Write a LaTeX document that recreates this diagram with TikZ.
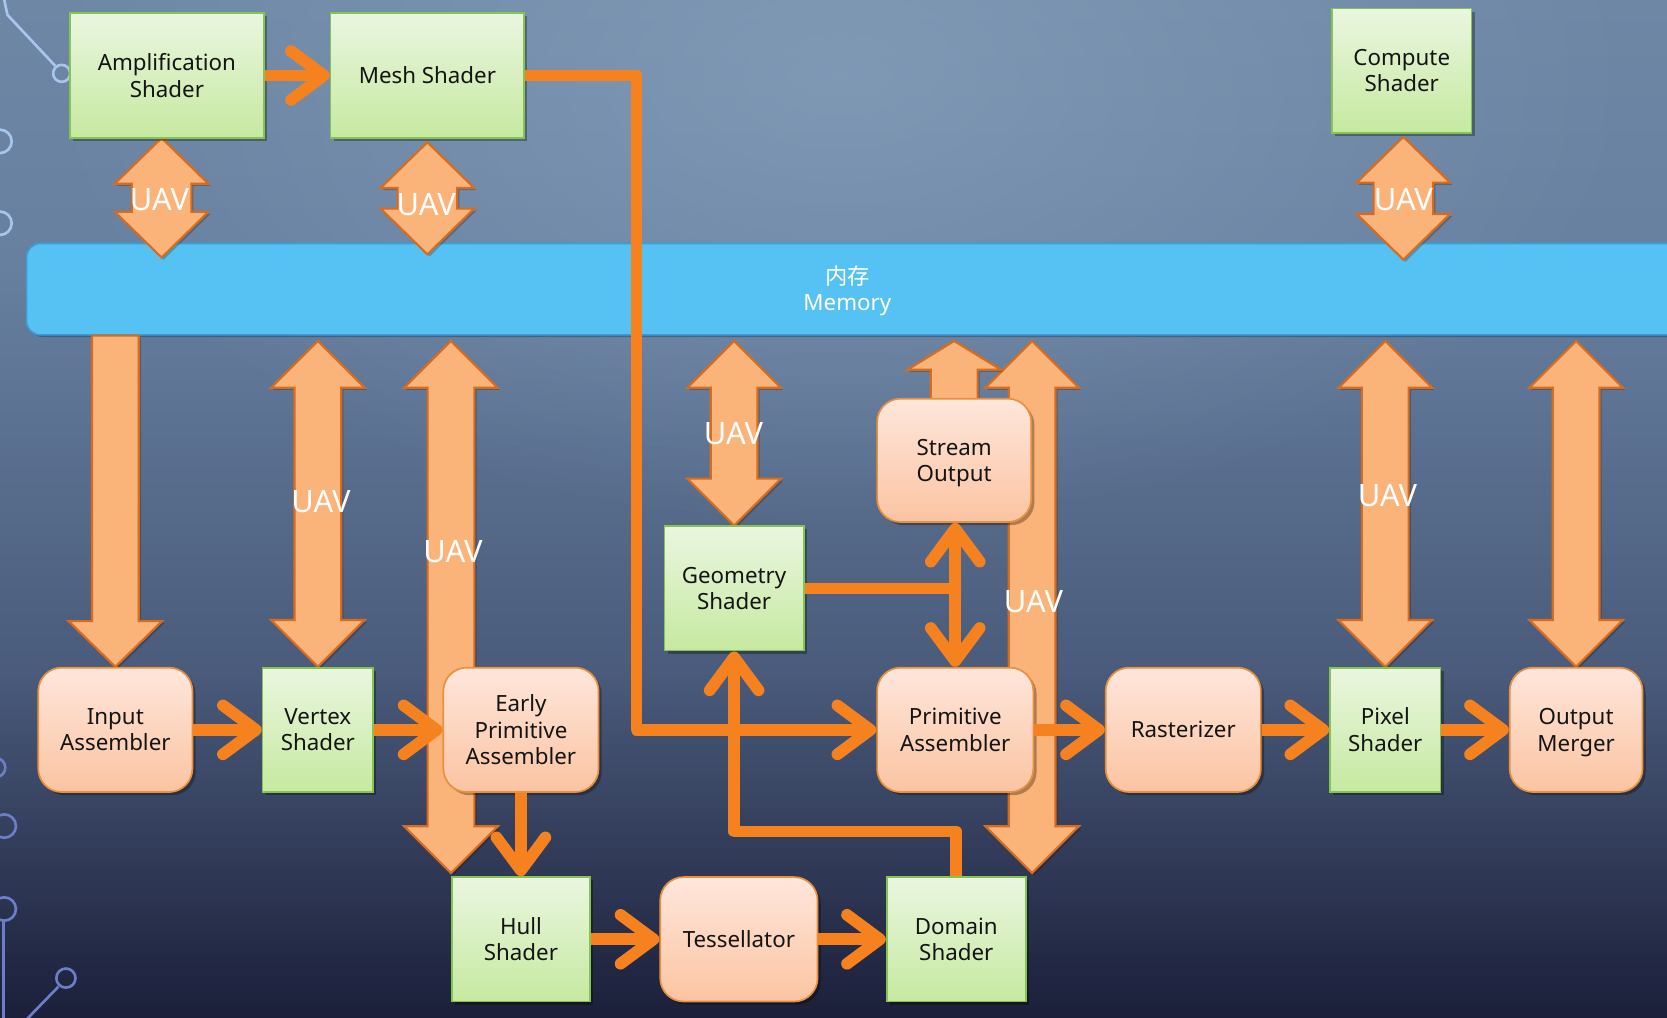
\documentclass[tikz,border=0pt]{standalone}
\usepackage{fontspec}
\setmainfont{Noto Sans}
\newfontfamily\cjkfont{Noto Sans CJK SC}
\usetikzlibrary{arrows.meta,calc,shadows,fadings}
\pgfdeclarelayer{backlayer}
\pgfdeclarelayer{blocklayer}
\pgfsetlayers{backlayer,blocklayer,main}

\definecolor{bgtop}{HTML}{6E87A5}
\definecolor{bgup}{HTML}{6780A0}
\definecolor{bgmid}{HTML}{4A5B7B}
\definecolor{bgbot}{HTML}{1B1F3A}
\definecolor{glowc}{HTML}{8FA8C2}
\definecolor{memfill}{HTML}{55C2F3}
\definecolor{memline}{HTML}{3A9ED8}
\definecolor{gtop}{HTML}{EAF6E0}
\definecolor{gbot}{HTML}{C6E9A0}
\definecolor{gline}{HTML}{86C452}
\definecolor{ptop}{HTML}{FEE6DB}
\definecolor{pbot}{HTML}{FBC4A2}
\definecolor{pline}{HTML}{E8903C}
\definecolor{blkfill}{HTML}{FAB378}
\definecolor{blkline}{HTML}{D86C1E}
\definecolor{flowc}{HTML}{F5821F}
\definecolor{decoA}{HTML}{A6C6EC}
\definecolor{decoB}{HTML}{6B7EC6}

\pgfdeclareverticalshading{bgshade}{100bp}{color(0bp)=(bgbot); color(25bp)=(bgbot); color(42bp)=(bgmid); color(62bp)=(bgup); color(75bp)=(bgtop); color(100bp)=(bgtop)}
\tikzfading[name=glowfade, inner color=transparent!45, outer color=transparent!100]

\newcommand\boxfont{\fontsize{21}{25}\selectfont}
\newcommand\uavfont{\fontsize{29}{31}\selectfont}
\newcommand\nodepth[1]{\raisebox{0pt}[\height][0pt]{#1}}

% #1 top tip, #2 bottom tip, #3 shaft half width, #4 head length (head half width 44)
\newcommand\BlockDbl[4]{%
  \filldraw[blockarrow] (#1) -- ++(44,#4) -- ++({#3-44},0) -- ($(#2)+(#3,-#4)$) -- ++({44-#3},0) -- (#2)
    -- ++(-44,-#4) -- ++({44-#3},0) -- ($(#1)+(-#3,#4)$) -- ++({#3-44},0) -- cycle;}
% #1 base (top), #2 tip (bottom)
\newcommand\BlockDown[4]{%
  \filldraw[blockarrow] ($(#1)+(-#3,0)$) -- ($(#1)+(#3,0)$) -- ($(#2)+(#3,-#4)$) -- ($(#2)+(44,-#4)$) -- (#2)
    -- ($(#2)+(-44,-#4)$) -- ($(#2)+(-#3,-#4)$) -- cycle;}
% #1 base (bottom), #2 tip (top)
\newcommand\BlockUp[4]{%
  \filldraw[blockarrow] ($(#1)+(-#3,0)$) -- ($(#2)+(-#3,#4)$) -- ($(#2)+(-44,#4)$) -- (#2)
    -- ($(#2)+(44,#4)$) -- ($(#2)+(#3,#4)$) -- ($(#1)+(#3,0)$) -- cycle;}

\begin{document}
\begin{tikzpicture}[x=1pt,y=-1pt,
  basebox/.style={inner sep=0pt, align=center, font=\boxfont, text=black!92, line width=1.6pt,
    drop shadow={shadow xshift=3pt, shadow yshift=-3pt, opacity=0.3, fill=black}},
  greenbox/.style={basebox, draw=gline, top color=gtop, bottom color=gbot},
  peachbox/.style={basebox, draw=pline, top color=ptop, bottom color=pbot, rounded corners=22pt},
  blockarrow/.style={fill=blkfill, draw=blkline, line width=2pt, line join=miter,
    drop shadow={shadow xshift=2pt, shadow yshift=-2pt, opacity=0.22, fill=black}},
  flow/.style={draw=flowc, line width=11pt, line join=round,
    -{Straight Barb[length=31pt, width=46pt, round]}},
  flowline/.style={draw=flowc, line width=11pt, line join=round},
  uav/.style={text=white, font=\uavfont, inner sep=0pt},
  decoa/.style={draw=decoA, line width=2.5pt},
  decob/.style={draw=decoB, line width=2.5pt},
]
\useasboundingbox (0,0) rectangle (1568,957);

% ---------- background ----------
\begin{pgfonlayer}{backlayer}
  \shade[shading=bgshade] (0,0) rectangle (1568,957);
  \fill[glowc, path fading=glowfade] (790,70) ellipse [x radius=760, y radius=430];
  % decorative circuit lines
  \draw[decoa] (3,-5) -- (7,14) -- (52,62);
  \draw[decoa] (58,69) circle[radius=8];
  \draw[decoa] (0,133) circle[radius=11];
  \draw[decoa] (0,210) circle[radius=11];
  \draw[decob] (-4,722) circle[radius=9];
  \draw[decob] (4,777) circle[radius=11];
  \draw[decob] (4,855) circle[radius=11];
  \draw[decob] (3,866) -- (3,962);
  \draw[decob] (22,962) -- (55,928);
  \draw[decob] (62,920) circle[radius=9];
  % memory bar
  \node[draw=memline, fill=memfill, line width=1.5pt, rounded corners=13pt,
        minimum width=1570pt, minimum height=86pt, inner sep=0pt,
        drop shadow={shadow xshift=2pt, shadow yshift=-2pt, opacity=0.25, fill=black}] (mem) at (810,272) {};
\end{pgfonlayer}
\node[text=white, align=center, font=\boxfont, inner sep=0pt] (memlabel) at (797,271) {{\cjkfont 内存}\\\nodepth{Memory}};

% ---------- boxes ----------
\node[greenbox, minimum width=182pt, minimum height=118pt] (amp)  at (157,71)  {Amplification\\Shader};
\node[greenbox, minimum width=182pt, minimum height=118pt] (mesh) at (402,71)  {Mesh Shader};
\node[greenbox, minimum width=131pt, minimum height=117pt] (cs)   at (1318.5,66.5) {Compute\\Shader};
\node[peachbox, minimum width=145pt, minimum height=117pt] (ia)   at (108.5,686.5) {Input\\Assembler};
\node[greenbox, minimum width=104pt, minimum height=117pt] (vs)   at (299,686.5) {Vertex\\Shader};
\node[peachbox, minimum width=146pt, minimum height=117pt] (epa)  at (490,686.5) {Early\\Primitive\\Assembler};
\node[greenbox, minimum width=131pt, minimum height=117pt] (gs)   at (690.5,553.5) {Geometry\\Shader};
\node[peachbox, minimum width=145pt, minimum height=116pt] (so)   at (897.5,433) {Stream\\\nodepth{Output}};
\node[peachbox, minimum width=147pt, minimum height=117pt] (pa)   at (898.5,686.5) {Primitive\\Assembler};
\node[peachbox, minimum width=146pt, minimum height=117pt] (ras)  at (1113,686.5) {Rasterizer};
\node[greenbox, minimum width=104pt, minimum height=117pt] (ps)   at (1303,686.5) {Pixel\\Shader};
\node[peachbox, minimum width=125pt, minimum height=117pt] (om)   at (1482.5,686.5) {Output\\\nodepth{Merger}};
\node[greenbox, minimum width=130pt, minimum height=117pt] (hs)   at (490,883.5) {Hull\\Shader};
\node[peachbox, minimum width=148pt, minimum height=117pt] (tess) at (695,883.5) {Tessellator};
\node[greenbox, minimum width=131pt, minimum height=117pt] (ds)   at (899.5,883.5) {Domain\\Shader};

% ---------- block arrow end points ----------
\coordinate (u1t) at ([xshift=-5pt,yshift=1pt]amp.south);
\coordinate (u1b) at ([yshift=-14pt]mem.north -| u1t);
\coordinate (u2t) at ([yshift=-3pt]mesh.south);
\coordinate (u2b) at ([yshift=-11pt]mem.north -| u2t);
\coordinate (u3t) at ([xshift=1.5pt,yshift=-3pt]cs.south);
\coordinate (u3b) at ([yshift=-16pt]mem.north -| u3t);
\coordinate (iat) at (mem.south -| ia.north);
\coordinate (vst) at ([yshift=-5pt]mem.south -| vs.north);
\coordinate (ept) at ([yshift=-5pt]mem.south -| hs.north west);
\coordinate (epb) at ([yshift=3pt]hs.north west);
\coordinate (gst) at ([yshift=-5pt]mem.south -| gs.north);
\coordinate (sob) at ([yshift=-12pt]so.north);
\coordinate (sot) at ([yshift=-5pt]mem.south -| so.north);
\coordinate (pat) at ([xshift=5pt,yshift=-5pt]mem.south -| ds.north east);
\coordinate (pab) at ([xshift=5pt,yshift=3pt]ds.north east);
\coordinate (pst) at ([yshift=-5pt]mem.south -| ps.north);
\coordinate (omt) at ([yshift=-5pt]mem.south -| om.north);

\begin{pgfonlayer}{blocklayer}
  \BlockDbl{u1t}{u1b}{28}{43}
  \BlockDbl{u2t}{u2b}{28}{43}
  \BlockDbl{u3t}{u3b}{28}{43}
  \BlockDown{iat}{ia.north}{22}{43}
  \BlockDbl{vst}{vs.north}{22}{44}
  \BlockDbl{ept}{epb}{22}{44}
  \BlockDbl{gst}{gs.north}{22}{44}
  \BlockDbl{pat}{pab}{22}{44}
  \BlockUp{sob}{sot}{22}{27}
  \BlockDbl{pst}{ps.north}{22}{44}
  \BlockDbl{omt}{om.north}{22}{44}
\end{pgfonlayer}

% ---------- flow connectors ----------
\draw[flow] (amp) -- (mesh);
\draw[flow] (mesh.east) -- ++(105,0) |- (pa.west);
\draw[flow] (ia) -- (vs);
\draw[flow] (vs) -- (epa);
\draw[flow] (epa) -- (hs);
\draw[flow] (hs) -- (tess);
\draw[flow] (tess) -- (ds);
\draw[flow] (ds.north) -- ++(0,-42) -| (gs.south);
\coordinate (gsj) at (gs.east -| pa.north);
\draw[flowline] (gs.east) -- (gsj);
\draw[flow] (gsj) -- (gsj |- so.south);
\draw[flow] (gsj) -- (pa.north);
\draw[flow] (pa) -- (ras);
\draw[flow] (ras) -- (ps);
\draw[flow] (ps) -- (om);

% ---------- UAV labels ----------
\node[uav] (l1) at (150,188) {UAV};
\node[uav] (l2) at (401,192) {UAV};
\node[uav] (l3) at (1320,188) {UAV};
\node[uav] (l4) at (302,472) {UAV};
\node[uav] (l5) at (426,519) {UAV};
\node[uav] (l6) at (690,408) {UAV};
\node[uav] (l7) at (972,566) {UAV};
\node[uav] (l8) at (1305,466) {UAV};
\end{tikzpicture}
\end{document}
